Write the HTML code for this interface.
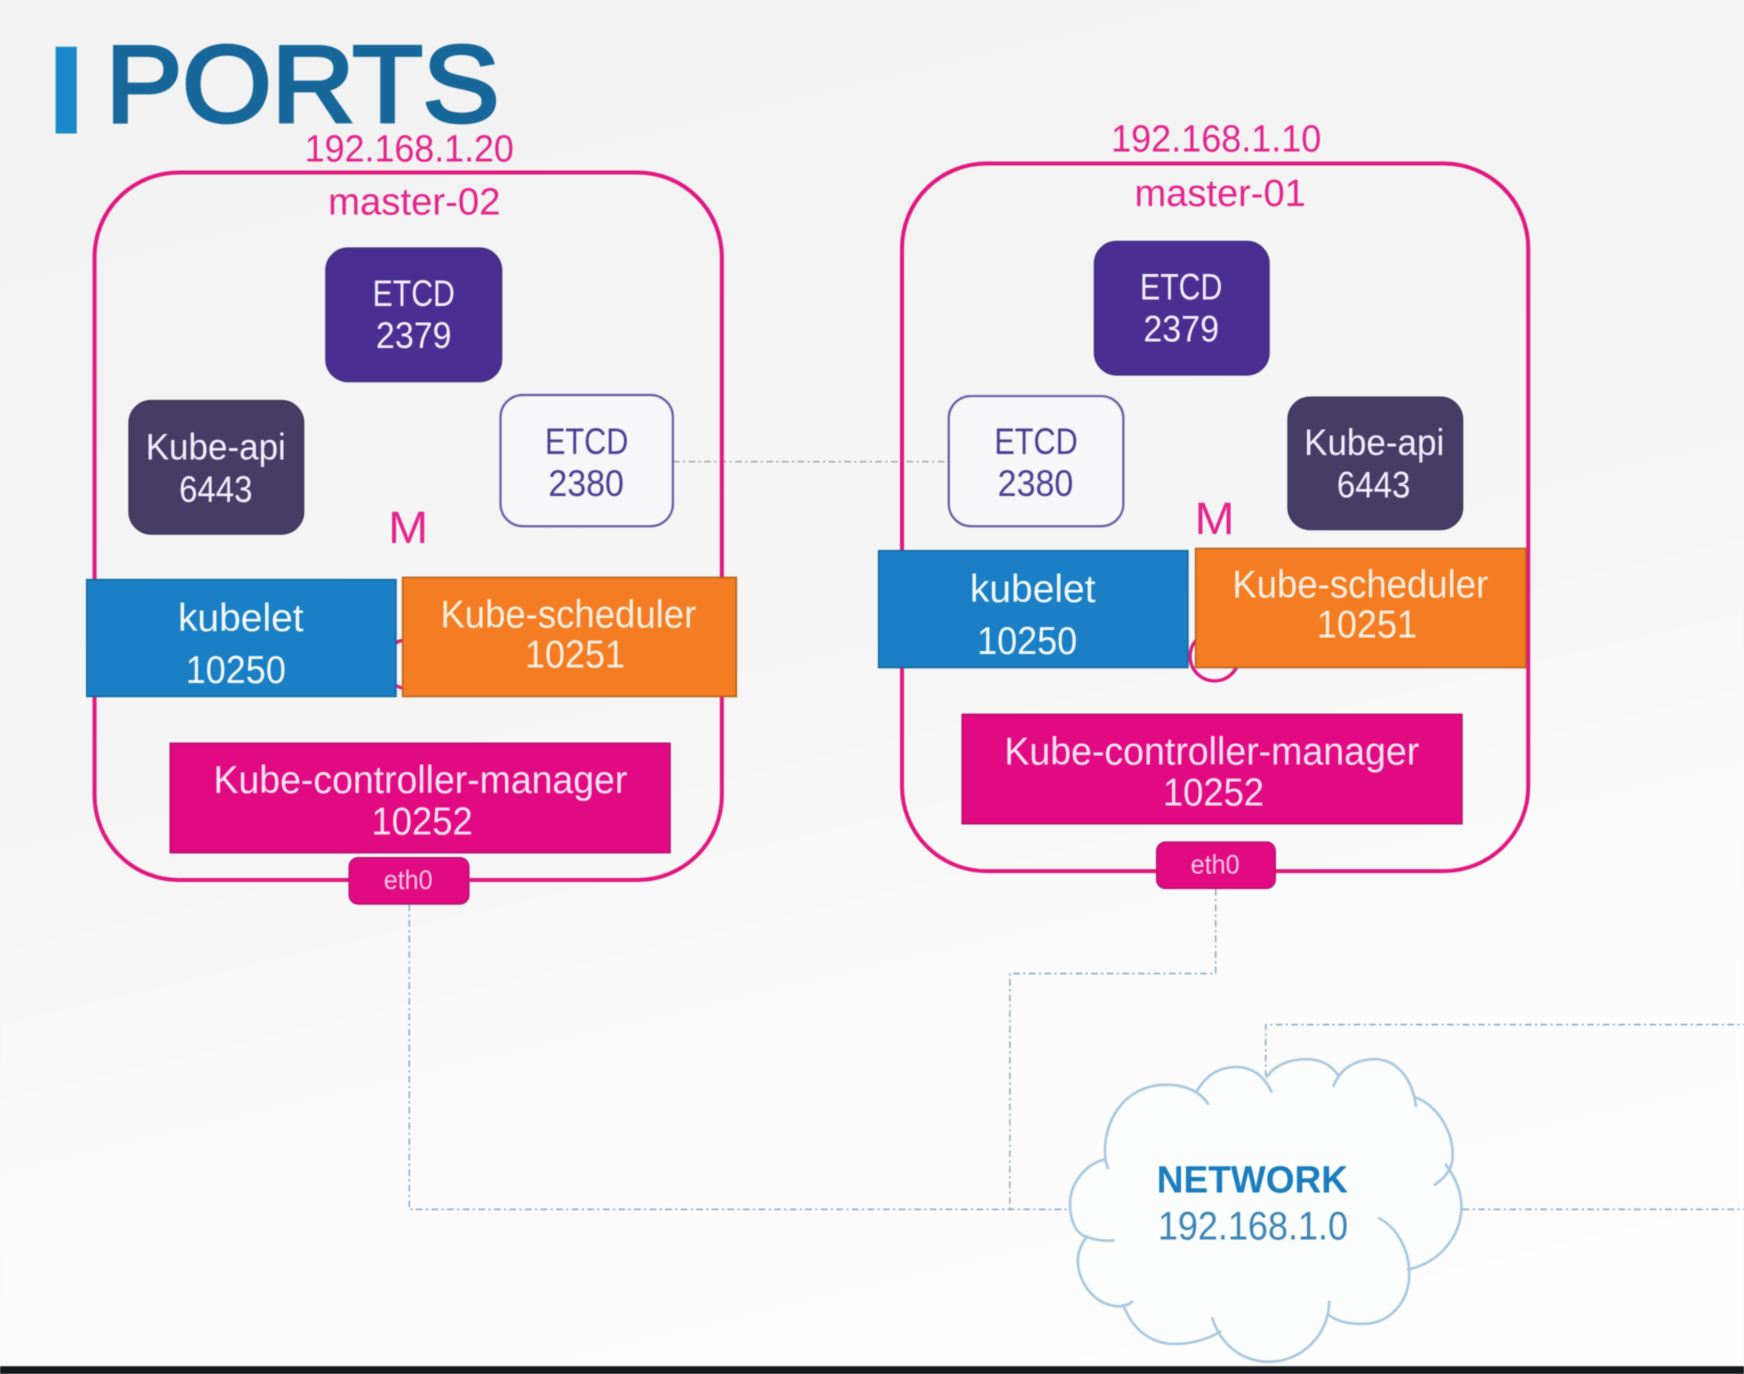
<!DOCTYPE html>
<html lang="en"><head><meta charset="utf-8"><title>Ports</title>
<style>
html,body{margin:0;padding:0;width:1744px;height:1374px;overflow:hidden;background:#f3f3f3}
svg{display:block;filter:blur(.6px)}
text{font-family:"Liberation Sans","DejaVu Sans",sans-serif;text-anchor:middle}
.w{font-size:33px;fill:#f4f0ff}
.p{font-size:34px;fill:#e4258c}
.e{font-size:33px;fill:#4b4093}
.b{font-size:35px;fill:#f3f9fd}
.d{fill:none;stroke:#8aa6ba;stroke-width:1.3;stroke-dasharray:6 3 2 3}
.c{fill:none;stroke:#a9c9e0;stroke-width:2.4;stroke-linecap:round}
</style></head><body>
<svg xmlns="http://www.w3.org/2000/svg" width="1744" height="1374" viewBox="0 0 1568 1235" preserveAspectRatio="none">
<defs><linearGradient id="bg" x1="0.35" y1="0" x2="0.65" y2="1">
<stop offset="0" stop-color="#f2f2f2"/><stop offset=".5" stop-color="#f6f6f6"/><stop offset=".75" stop-color="#fbfbfb"/><stop offset="1" stop-color="#fefefe"/></linearGradient></defs>
<rect width="1568" height="1235" fill="url(#bg)"/>
<rect x="50" y="42" width="19" height="78" fill="#1a87c9"/>
<text x="272" y="109" font-size="98" textLength="354" lengthAdjust="spacingAndGlyphs" fill="#17679a" stroke="#17679a" stroke-width="3.4">PORTS</text>

<!-- connectors -->
<path class="d" d="M605 415H853" style="stroke:#a3a3a8"/>
<path class="d" d="M368 813V1087H962"/>
<path class="d" d="M1093 799V875H908V1087"/>
<path class="d" d="M1138 968V921H1568"/>
<path class="d" d="M1315 1087H1568"/>

<!-- master-02 -->
<text class="p" x="368" y="145" textLength="188" lengthAdjust="spacingAndGlyphs">192.168.1.20</text>
<rect x="85" y="155" width="564" height="636" rx="76" fill="none" stroke="#e0187f" stroke-width="3.6"/>
<text class="p" x="372.500" y="193" textLength="155" lengthAdjust="spacingAndGlyphs">master-02</text>
<rect x="293" y="223" width="158" height="120" rx="20" fill="#4b2e91" stroke="#41307f" stroke-width="1.2"/>
<text class="w" x="372" y="275" textLength="74" lengthAdjust="spacingAndGlyphs">ETCD</text>
<text class="w" x="372" y="313" textLength="68" lengthAdjust="spacingAndGlyphs">2379</text>
<rect x="116" y="360" width="157" height="120" rx="20" fill="#453d66" stroke="#3d3659" stroke-width="1.2"/>
<text class="w" x="194" y="413" textLength="126" lengthAdjust="spacingAndGlyphs">Kube-api</text>
<text class="w" x="194" y="451" textLength="66" lengthAdjust="spacingAndGlyphs">6443</text>
<rect x="450" y="355" width="155" height="118" rx="20" fill="#f7f7f9" stroke="#6b5ca5" stroke-width="2"/>
<text class="e" x="527.500" y="408" textLength="75" lengthAdjust="spacingAndGlyphs">ETCD</text>
<text class="e" x="527" y="446" textLength="68" lengthAdjust="spacingAndGlyphs">2380</text>
<text x="367" y="488" font-size="41" fill="#e4258c" textLength="36" lengthAdjust="spacingAndGlyphs">M</text>
<circle cx="367" cy="597" r="22" fill="none" stroke="#e0187f" stroke-width="3"/>
<rect x="78" y="521" width="278" height="105" fill="#1a7fc4" stroke="#14699f" stroke-width="1.4"/>
<text class="b" x="216.500" y="567" textLength="113" lengthAdjust="spacingAndGlyphs">kubelet</text>
<text class="b" x="212" y="614" textLength="90" lengthAdjust="spacingAndGlyphs">10250</text>
<rect x="362" y="519" width="300" height="107" fill="#f47c22" stroke="#b5621f" stroke-width="1.4"/>
<text class="b" x="511" y="564" textLength="230" lengthAdjust="spacingAndGlyphs" style="fill:#fdf0e2">Kube-scheduler</text>
<text class="b" x="517" y="600" textLength="90" lengthAdjust="spacingAndGlyphs" style="fill:#fdf0e2">10251</text>
<rect x="153" y="668" width="449.500" height="98.500" fill="#e20a82" stroke="#a81269" stroke-width="1.2"/>
<text class="b" x="378" y="713" textLength="372" lengthAdjust="spacingAndGlyphs" style="fill:#fde4f2">Kube-controller-manager</text>
<text class="b" x="379.500" y="750" textLength="91" lengthAdjust="spacingAndGlyphs" style="fill:#fde4f2">10252</text>
<rect x="314" y="771" width="107.500" height="41.500" rx="8" fill="#e20a82" stroke="#b81570" stroke-width="1.4"/>
<text x="367" y="799" font-size="24" fill="#f6c6e2" textLength="44" lengthAdjust="spacingAndGlyphs">eth0</text>

<!-- master-01 -->
<text class="p" x="1093.500" y="136" textLength="189" lengthAdjust="spacingAndGlyphs">192.168.1.10</text>
<rect x="811" y="147" width="563" height="636" rx="76" fill="none" stroke="#e0187f" stroke-width="3.6"/>
<text class="p" x="1097" y="185" textLength="154" lengthAdjust="spacingAndGlyphs">master-01</text>
<rect x="984" y="217" width="157" height="120" rx="20" fill="#4b2e91" stroke="#41307f" stroke-width="1.2"/>
<text class="w" x="1062" y="269" textLength="74" lengthAdjust="spacingAndGlyphs">ETCD</text>
<text class="w" x="1062" y="307" textLength="68" lengthAdjust="spacingAndGlyphs">2379</text>
<rect x="853" y="356" width="157" height="117" rx="20" fill="#f7f7f9" stroke="#6b5ca5" stroke-width="2"/>
<text class="e" x="931.500" y="408" textLength="75" lengthAdjust="spacingAndGlyphs">ETCD</text>
<text class="e" x="931" y="446" textLength="68" lengthAdjust="spacingAndGlyphs">2380</text>
<rect x="1158" y="357" width="157" height="119" rx="20" fill="#453d66" stroke="#3d3659" stroke-width="1.2"/>
<text class="w" x="1235.500" y="409" textLength="126" lengthAdjust="spacingAndGlyphs">Kube-api</text>
<text class="w" x="1235" y="447" textLength="66" lengthAdjust="spacingAndGlyphs">6443</text>
<text x="1092" y="480" font-size="41" fill="#e4258c" textLength="36" lengthAdjust="spacingAndGlyphs">M</text>
<circle cx="1092" cy="590" r="22" fill="none" stroke="#e0187f" stroke-width="3"/>
<rect x="790" y="495" width="278" height="105" fill="#1a7fc4" stroke="#14699f" stroke-width="1.4"/>
<text class="b" x="928.500" y="541" textLength="113" lengthAdjust="spacingAndGlyphs">kubelet</text>
<text class="b" x="923.500" y="588" textLength="90" lengthAdjust="spacingAndGlyphs">10250</text>
<rect x="1075" y="493" width="297" height="107" fill="#f47c22" stroke="#b5621f" stroke-width="1.4"/>
<text class="b" x="1223" y="537" textLength="230" lengthAdjust="spacingAndGlyphs" style="fill:#fdf0e2">Kube-scheduler</text>
<text class="b" x="1229" y="573" textLength="90" lengthAdjust="spacingAndGlyphs" style="fill:#fdf0e2">10251</text>
<rect x="865" y="642" width="449.500" height="98.500" fill="#e20a82" stroke="#a81269" stroke-width="1.2"/>
<text class="b" x="1089.500" y="687" textLength="373" lengthAdjust="spacingAndGlyphs" style="fill:#fde4f2">Kube-controller-manager</text>
<text class="b" x="1091" y="724" textLength="91" lengthAdjust="spacingAndGlyphs" style="fill:#fde4f2">10252</text>
<rect x="1040" y="757" width="106.500" height="41.500" rx="8" fill="#e20a82" stroke="#b81570" stroke-width="1.4"/>
<text x="1092.500" y="785" font-size="24" fill="#f6c6e2" textLength="44" lengthAdjust="spacingAndGlyphs">eth0</text>

<!-- cloud -->
<path fill="#fcfdfd" d="M994 1042C990 1010 1010 975 1048 975C1060 975 1070 977 1076 981C1085 965 1098 959 1111 959C1122 959 1132 963 1139 968C1146 957 1160 952 1175 952C1186 952 1195 956 1201 971C1208 960 1220 952 1236 952C1254 952 1268 968 1272 986C1295 995 1307 1020 1306 1040L1300 1047C1308 1058 1314 1070 1314 1085C1314 1110 1295 1135 1266 1141C1264 1170 1250 1190 1225 1190C1212 1190 1202 1188 1195 1182C1188 1206 1168 1224 1141 1224C1122 1224 1106 1214 1097 1197C1085 1204 1072 1208 1056 1208C1035 1208 1018 1195 1010 1173C1005 1175 1002 1174 998 1173C980 1168 970 1150 969 1135C969 1125 972 1118 977 1112C968 1110 962 1098 962 1082C962 1065 975 1050 994 1042Z"/>
<g class="c">
<path class="c" d="M996 1050C995 1046 994 1044 994 1042C975 1046 962 1065 962 1082C962 1098 968 1110 978 1112Q988 1116 1001 1115"/>
<path class="c" d="M994 1042C990 1010 1010 975 1048 975C1065 975 1078 980 1086 992"/>
<path class="c" d="M1076 981C1085 965 1098 959 1111 959C1125 959 1136 966 1143 981"/>
<path class="c" d="M1139 968C1146 957 1160 952 1175 952C1188 952 1197 958 1203 966"/>
<path class="c" d="M1199 976C1205 960 1220 952 1236 952C1256 952 1270 970 1273 994"/>
<path class="c" d="M1272 986C1295 995 1307 1020 1306 1040C1306 1050 1300 1058 1290 1065"/>
<path class="c" d="M1300 1047C1308 1058 1314 1070 1314 1085C1314 1110 1295 1135 1266 1141"/>
<path class="c" d="M1240 1095C1258 1105 1267 1125 1267 1145C1267 1170 1250 1190 1225 1190C1212 1190 1202 1188 1195 1182"/>
<path class="c" d="M1195 1170C1195 1200 1170 1224 1141 1224C1118 1224 1098 1210 1090 1185"/>
<path class="c" d="M1097 1197C1085 1204 1072 1208 1056 1208C1035 1208 1018 1195 1010 1173"/>
<path class="c" d="M1018 1170C1012 1175 1005 1175 998 1173C980 1168 970 1150 969 1135C969 1125 972 1118 977 1112"/>
</g>
<text x="1126" y="1072" font-size="34" font-weight="700" fill="#1a7dbd" textLength="172" lengthAdjust="spacingAndGlyphs">NETWORK</text>
<text x="1126.500" y="1114" font-size="36" fill="#3d86b6" textLength="171" lengthAdjust="spacingAndGlyphs">192.168.1.0</text>

<rect x="0" y="1228" width="1568" height="7" fill="#14181c"/>
</svg>
</body></html>
